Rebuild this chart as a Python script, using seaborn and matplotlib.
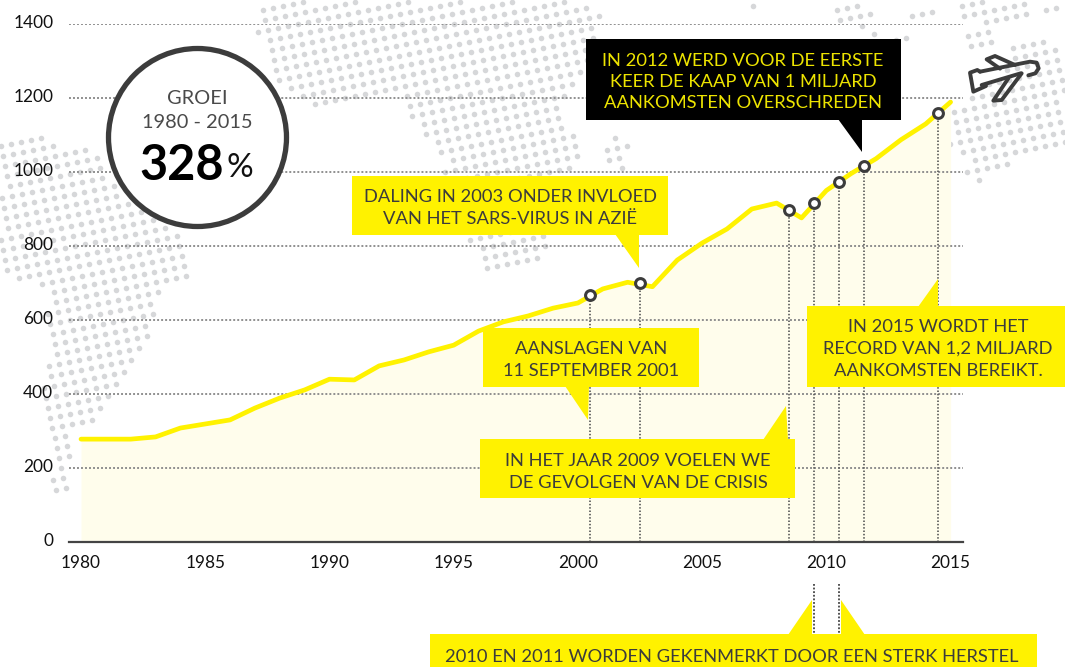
import numpy as np
import pandas as pd
import seaborn as sns
import matplotlib
matplotlib.use("Agg")
import matplotlib.pyplot as plt
from matplotlib.patches import Polygon, Circle, Rectangle
from matplotlib.path import Path
from matplotlib.transforms import ScaledTranslation

years = list(range(1980, 2016))
arrivals = [278, 278, 278, 284, 308, 319, 330, 362, 389, 411, 440, 438, 476, 492, 514, 532,
            570, 595, 611, 632, 646, 684, 702, 690, 762, 808, 846, 900, 916, 876, 950, 996,
            1036, 1087, 1130, 1189]
marker_years = [2000.5, 2002.5, 2008.5, 2009.5, 2010.5, 2011.5, 2014.5]
marker_values = [667, 699, 897, 916, 973, 1016, 1159]
y_ticks = [0, 200, 400, 600, 800, 1000, 1200, 1400]
x_label_years = [1980, 1985, 1990, 1995, 2000, 2005, 2010, 2015]

YELLOW = "#FFF200"
DARK = "#3C3C3C"
FILL = "#FFFDEC"
DOT = "#D6D7D9"
W, H = 1065, 667

sns.set_theme(style="white")
plt.rcParams["font.family"] = ["Lato", "DejaVu Sans"]

fig = plt.figure(figsize=(W / 100, H / 100), dpi=100, facecolor="white")

# ---- background world-map texture (pixel space) ----
bg = fig.add_axes([0, 0, 1, 1], zorder=0)
bg.set_xlim(0, W); bg.set_ylim(H, 0); bg.axis("off")
blobs = [
    [(0, 145), (43, 132), (68, 148), (100, 150), (115, 187), (188, 235), (190, 278), (160, 293),
     (157, 317), (144, 350), (127, 373), (118, 385), (103, 408), (95, 420), (70, 437), (70, 490),
     (55, 490), (46, 440), (50, 420), (41, 380), (50, 360), (41, 330), (50, 307), (41, 287),
     (33, 282), (13, 277), (0, 268)],
    [(268, 0), (258, 17), (255, 38), (268, 47), (271, 73), (288, 93), (311, 109), (343, 104),
     (355, 97), (401, 98), (403, 110), (418, 129), (431, 145), (445, 160), (440, 175), (460, 236),
     (477, 249), (490, 276), (534, 267), (550, 242), (572, 165), (580, 153), (577, 133), (564, 127),
     (562, 107), (567, 95), (585, 72), (604, 15), (590, 0)],
    [(596, 160), (615, 133), (629, 143), (622, 175)],
    [(748, 0), (754, 0), (754, 7), (748, 7)],
    [(828, 7), (840, 0), (862, 0), (875, 17), (868, 30), (882, 38), (924, 36), (924, 44), (882, 46),
     (860, 30), (840, 22)],
    [(901, 10), (935, 2), (939, 17), (915, 24)],
    [(953, 9), (972, 0), (1000, 0), (1030, 0), (1026, 20), (1000, 22), (968, 22)],
    [(938, 43), (992, 30), (996, 46), (972, 50)],
    [(1012, 48), (1047, 39), (1065, 50), (1065, 155), (1047, 146), (1027, 150), (1010, 165),
     (984, 181), (968, 181), (965, 160), (950, 145), (950, 110), (975, 95), (1000, 70)],
    [(1040, 0), (1065, 0), (1065, 12), (1045, 20)],
]
ii, jj = np.meshgrid(np.arange(-40, 130), np.arange(-40, 130))
lx = (ii * 10.0 + jj * 2.2).ravel()
ly = (ii * -2.0 + jj * 10.0).ravel()
pts = np.column_stack([lx, ly])
mask = np.zeros(len(pts), dtype=bool)
for b in blobs:
    mask |= Path(b).contains_points(pts)
bg.scatter(pts[mask, 0], pts[mask, 1], s=16, color=DOT, linewidths=0)

# ---- chart ----
x0, x1 = 68.6, 963.0
ybot, ytop = 542.0, 24.0
ax = fig.add_axes([x0 / W, 1 - ybot / H, (x1 - x0) / W, (ybot - ytop) / H], zorder=1)
ax.patch.set_alpha(0)
ax.set_xlim(1979.5, 2015.5)
ax.set_ylim(0, 1400)
df = pd.DataFrame({"year": years, "arrivals": arrivals})
ax.fill_between(years, arrivals, 0, color=FILL, linewidth=0, zorder=1)
for v in y_ticks[1:]:
    ax.axhline(v, color="#8F8F8F", lw=1.4, dashes=(1.0, 1.06), zorder=2)
ax.vlines(marker_years, 0, marker_values, color="#555555", lw=1.2, linestyles=[(0, (0.9, 1.1))], zorder=2)
sns.lineplot(data=df, x="year", y="arrivals", ax=ax, color=YELLOW, lw=3.4, zorder=3,
             estimator=None, sort=False, legend=False)
ax.lines[-1].set_solid_joinstyle("round")
sns.scatterplot(x=marker_years, y=marker_values, ax=ax, s=50, color="white", edgecolor=DARK,
                linewidth=2.2, zorder=4, legend=False, clip_on=False)
ax.set_xlabel(""); ax.set_ylabel("")
for s in ["top", "left", "right"]:
    ax.spines[s].set_visible(False)
ax.spines["bottom"].set_color("#444444")
ax.spines["bottom"].set_linewidth(1.6)
ax.set_yticks(y_ticks)
ax.set_yticklabels([str(v) for v in y_ticks], fontsize=12.4, color="#111111")
ax.tick_params(axis="y", length=0, pad=11)
ax.set_xticks(np.arange(1979.5, 2016, 1))
ax.set_xticklabels([])
ax.tick_params(axis="x", length=3, width=1, color="#777777", direction="out")
ax.set_xticks(x_label_years, labels=[str(y) for y in x_label_years], minor=True)
ax.tick_params(axis="x", which="minor", length=0, labelsize=12.4, labelcolor="#111111", pad=9)
lift = ScaledTranslation(0, 2 / 100, fig.dpi_scale_trans)
for tick in ax.yaxis.get_major_ticks():
    tick.label1.set_transform(tick.label1.get_transform() + lift)

# ---- annotation layer (pixel space) ----
ov = fig.add_axes([0, 0, 1, 1], zorder=2)
ov.set_xlim(0, W); ov.set_ylim(H, 0); ov.axis("off"); ov.patch.set_alpha(0)

TS = 13.2
def callout(box, pointers, lines, cx, ys, fc=YELLOW, tc=DARK):
    l, t, r, b = box
    ov.add_patch(Rectangle((l, t), r - l, b - t, fc=fc, ec="none", zorder=5))
    for p in pointers:
        ov.add_patch(Polygon(p, closed=True, fc=fc, ec="none", zorder=5))
    for s, y in zip(lines, ys):
        ov.text(cx, y + 1.5, s, ha="center", va="center", color=tc, fontsize=TS, zorder=6)

callout((586, 39, 901, 120), [[(838, 119), (862, 152), (862, 119)]],
        ["IN 2012 WERD VOOR DE EERSTE", "KEER DE KAAP VAN 1 MILJARD", "AANKOMSTEN OVERSCHREDEN"],
        743, [59.5, 80.5, 101.5], fc="#000000", tc="#EDE400")
callout((352, 176, 668, 235), [[(615, 234), (639, 268), (639, 234)]],
        ["DALING IN 2003 ONDER INVLOED", "VAN HET SARS-VIRUS IN AZIË"], 510, [196, 217])
callout((483, 328, 699, 387), [[(565, 386), (588, 420), (589, 386)]],
        ["AANSLAGEN VAN", "11 SEPTEMBER 2001"], 591, [347.5, 369.5])
callout((480, 439, 795, 498), [[(763, 440), (786, 406), (788, 440)]],
        ["IN HET JAAR 2009 VOELEN WE", "DE GEVOLGEN VAN DE CRISIS"], 638, [459.5, 481])
callout((807, 306, 1065, 387), [[(918, 307), (938, 279), (938, 307)]],
        ["IN 2015 WORDT HET", "RECORD VAN 1,2 MILJARD", "AANKOMSTEN BEREIKT."], 938, [325.5, 347.5, 369])
callout((430, 634, 1037, 667),
        [[(788, 635), (812, 600), (812, 635)], [(841, 600), (865, 635), (841, 635)]],
        ["2010 EN 2011 WORDEN GEKENMERKT DOOR EEN STERK HERSTEL"], 732, [655])
ov.vlines([814, 839], 584, 634, color="#444444", lw=1.3, linestyles=[(0, (1, 1))], zorder=6)

# growth circle
ov.add_patch(Circle((197.5, 137.5), 89, fc="white", ec=DARK, lw=3.8, zorder=5))
ov.text(197, 99, "GROEI", ha="center", va="center", color="#4A4A4A", fontsize=14.4, zorder=6)
ov.text(197, 122, "1980 - 2015", ha="center", va="center", color="#4A4A4A", fontsize=14.4, zorder=6)
ov.text(181.5, 165, "328", ha="center", va="center", color="#000000", fontsize=35, fontweight="bold", zorder=6)
ov.text(240, 168, "%", ha="center", va="center", color="#111111", fontsize=24, zorder=6)

# plane icon, traced in pixel space
def plane(points):
    return [(760 + x / 3, 30 + y / 3) for x, y in points]
plane_kw = dict(closed=False, fc="none", ec=DARK, lw=2.8, joinstyle="round", capstyle="round", zorder=6)
for shape in [
    [(660, 125), (810, 95), (830, 98), (836, 115), (826, 130), (805, 136)],
    [(665, 165), (782, 130)],
    [(660, 125), (652, 120), (630, 128), (640, 185), (678, 168), (660, 125)],
    [(720, 116), (680, 88), (705, 78), (765, 105)],
    [(745, 145), (700, 212), (725, 210), (785, 130)],
]:
    ov.add_patch(Polygon(plane(shape), **plane_kw))

fig.savefig("out.png", dpi=100)
